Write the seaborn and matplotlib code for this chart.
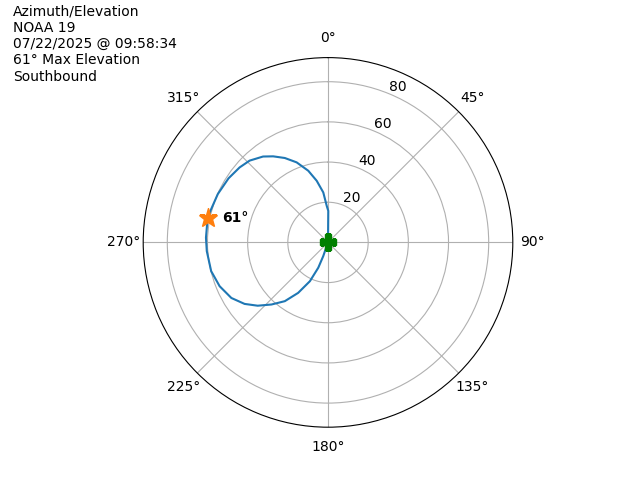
import numpy as np
import matplotlib
matplotlib.use("Agg")
import matplotlib.pyplot as plt
import seaborn as sns

# pass track (azimuth deg, elevation deg)
azimuth = [0.5, 0.5, 0.5, 358.0, 354.6, 349.6, 344.6, 338.6, 332.9, 327.5,
           322.9, 316.2, 310.3, 302.8, 293.7, 285.1, 280.2, 272.2, 265.9,
           256.2, 248.0, 240.1, 233.6, 228.0, 222.3, 216.3, 210.6, 205.0,
           201.0, 199.1, 200.0, 200.0]
elevation = [0.0, 8.2, 15.7, 18.2, 25.0, 31.2, 37.0, 42.8, 47.2, 50.8,
             53.6, 56.4, 57.7, 58.9, 59.9, 60.6, 61.0, 60.8, 60.5,
             59.9, 58.2, 55.5, 51.6, 47.1, 41.8, 36.3, 29.2, 21.3,
             13.5, 7.2, 1.9, 0.0]

max_az = 281.4
max_el = 61
header = ["Azimuth/Elevation", "NOAA 19", "07/22/2025 @ 09:58:34",
          "61° Max Elevation", "Southbound"]

fig = plt.figure(figsize=(6.4, 4.8), dpi=100)
ax = fig.add_subplot(111, projection="polar")
ax.set_theta_zero_location("N")
ax.set_theta_direction(-1)

sns.lineplot(x=np.deg2rad(azimuth), y=elevation, ax=ax, sort=False,
             estimator=None, color="C0")

# start of pass and the peak
ax.plot(np.deg2rad(azimuth[0]), elevation[0], marker="P", color="green",
        markersize=12, linestyle="none")
ax.plot(np.deg2rad(max_az), max_el, marker="*", color="C1",
        markersize=14, linestyle="none")
ax.annotate(f"{max_el}°", xy=(np.deg2rad(max_az), max_el), xytext=(10, 0),
            textcoords="offset points", va="center", ha="left",
            fontweight="bold", fontsize=10)

ax.set_ylim(0, 92)
ax.set_yticks([20, 40, 60, 80])
ax.set_xticks(np.deg2rad(np.arange(0, 360, 45)))
ax.set_xlabel("")
ax.set_ylabel("")

fig.text(0.02, 0.99, "\n".join(header), ha="left", va="top", fontsize=10)

fig.savefig("out.png", dpi=100)
